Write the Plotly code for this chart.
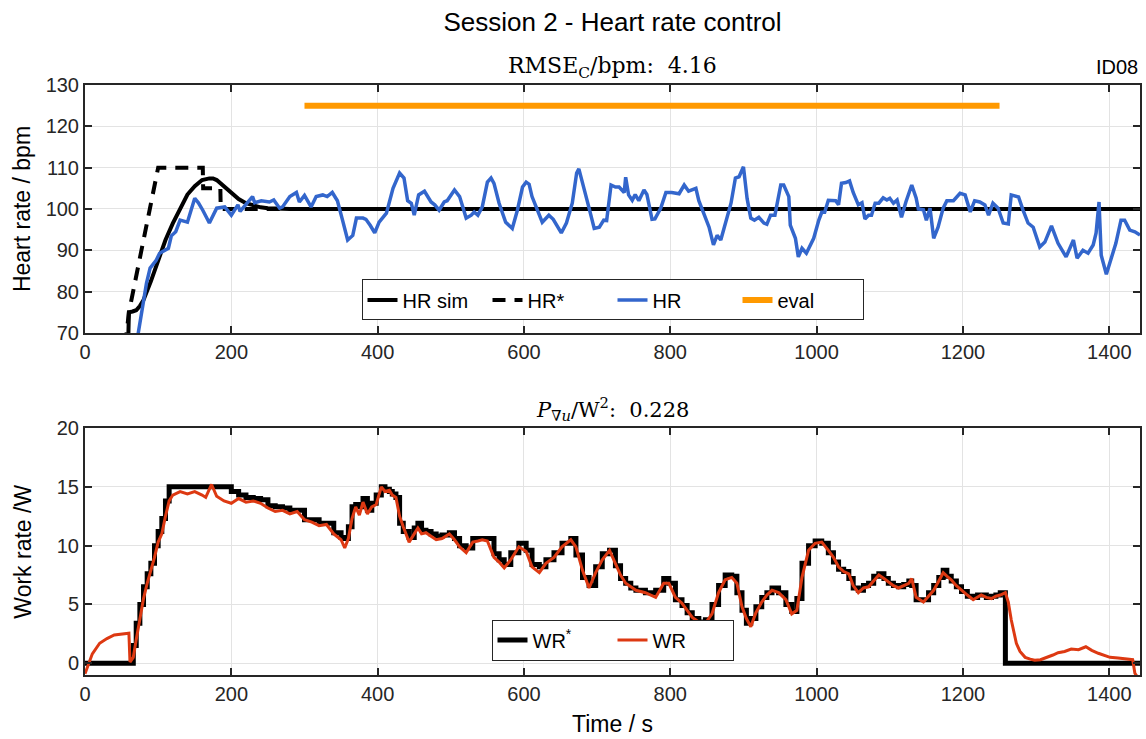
import plotly.graph_objects as go

# ---------------- data ----------------
t_hr = [70, 78, 84, 89, 97, 102, 108, 114, 118, 124, 130, 140, 150, 155, 161, 170, 180, 191, 200, 209,
        212, 222, 229, 232, 241, 252, 258, 266, 270, 280, 289, 293, 300, 309, 316, 325, 331, 338, 345, 352,
        359, 366, 371, 380, 384, 390, 396, 402, 412, 421, 430, 436, 441, 446, 450, 456, 464, 473, 478, 484,
        491, 495, 505, 512, 521, 528, 532, 537, 543, 550, 555, 559, 566, 575, 584, 591, 598, 603, 607, 611,
        625, 634, 640, 651, 658, 666, 672, 675, 682, 689, 696, 703, 709, 713, 719, 725, 730, 737, 739, 743,
        748, 752, 757, 764, 768, 775, 779, 787, 794, 802, 812, 819, 825, 835, 839, 846, 853, 859, 864, 869,
        876, 883, 889, 894, 900, 905, 910, 915, 921, 928, 932, 937, 943, 951, 955, 962, 964, 971, 975, 980,
        986, 996, 1003, 1007, 1011, 1016, 1026, 1030, 1034, 1040, 1045, 1050, 1057, 1062, 1066, 1071, 1075, 1080, 1085, 1091,
        1096, 1100, 1105, 1110, 1116, 1122, 1130, 1136, 1139, 1146, 1150, 1155, 1160, 1166, 1173, 1178, 1187, 1196, 1203, 1210,
        1216, 1223, 1230, 1235, 1241, 1248, 1255, 1262, 1266, 1276, 1282, 1289, 1296, 1305, 1312, 1321, 1330, 1341, 1351, 1356,
        1364, 1371, 1378, 1382, 1386, 1389, 1396, 1402, 1409, 1416, 1421, 1428, 1435, 1442]
hr = [67, 76, 82, 85.7, 87.5, 89.3, 90, 90.5, 93.5, 94.5, 97.3, 96.8, 102.6, 101.5, 99.7, 96.6, 100.2, 100.5, 98.5, 101,
      99.4, 101.7, 103, 101.5, 102, 101.7, 102.2, 100.2, 100.5, 103, 104, 101.7, 103.3, 100.5, 103, 103.4, 103, 104, 102, 97.3,
      92.5, 93.6, 97.8, 97.8, 97.5, 96, 94.2, 96.8, 99, 105, 108.7, 107.5, 102, 101.4, 98.5, 103.4, 104.3, 101.7, 101, 99.7,
      101.7, 102, 104.6, 103, 97.8, 98.5, 99.3, 98.5, 100.5, 106.5, 107.5, 106.2, 101.4, 96.8, 95.3, 99.7, 105.3, 106.5, 106, 103,
      96.8, 98.5, 97.5, 94.2, 96.6, 101.4, 108.7, 109.7, 105.3, 100.2, 95.3, 95.6, 97.3, 97.2, 105.8, 105.3, 105.3, 104, 107.7, 103.4,
      102.1, 103.5, 102, 104.6, 103.5, 97.5, 97.6, 100.2, 104, 104, 103.7, 105.8, 104.3, 105, 102, 98.5, 95.6, 91.3, 93.6, 92.5,
      96.6, 101.4, 107.5, 107.8, 110.2, 102.5, 97.8, 97.3, 98, 96.6, 96.3, 98.5, 98.5, 105.8, 105.8, 103, 96.1, 92.9, 88.4, 90.5,
      89.3, 92.9, 97.3, 99.2, 99.2, 102.1, 102, 101, 106.2, 106.4, 106.8, 104, 101, 101.5, 97.6, 98.5, 98.5, 101.4, 101.4, 102.7,
      102.2, 102.6, 101.4, 102.2, 98, 101.7, 105.8, 102.7, 100, 99.8, 97.3, 100.2, 92.9, 95.6, 100.2, 102, 102, 103.8, 103.4, 99.3,
      102, 101.7, 101, 98.5, 101.4, 100.2, 96.6, 96.4, 103.4, 102.9, 99.8, 96.6, 95.6, 90.8, 92, 95.9, 91.7, 88.4, 92.5, 88.1,
      90, 89.3, 91.3, 94.2, 101.7, 88.8, 84.2, 87.6, 91.7, 97.3, 97.3, 94.9, 94.5, 93.7]

t_sim = [58, 60, 65, 70, 75, 80, 90, 100, 110, 120, 130, 140, 150, 160, 170, 175, 180, 190, 200, 210,
         220, 230, 240, 250, 260, 280, 300, 1442]
hr_sim = [60, 75, 75.2, 75.5, 76.5, 78, 82.5, 87.5, 92.5, 96.5, 100, 103.5, 105.5, 107, 107.4, 107.4, 107, 105.5, 103.8, 102.4,
          101.4, 100.8, 100.4, 100.2, 100.1, 100, 100, 100]

t_ref_hr = [55, 60, 100, 161, 161.5, 185, 185.5, 1442]
hr_ref = [67, 75, 110, 110, 105, 105, 100, 100]

t_eval = [300, 1250]
eval_level = [125, 125]

t_wr = [0, 5, 10, 20, 30, 40, 50, 60, 61.5, 66, 70, 75, 80, 85, 90, 95, 100, 105, 110, 115,
        120, 130, 140, 150, 160, 165, 173, 180, 190, 200, 210, 220, 230, 240, 250, 260, 270, 280, 290, 300,
        310, 320, 330, 340, 350, 355, 360, 365, 370, 375, 380, 386, 392, 398, 405, 410, 416, 420, 425, 430,
        435, 443, 450, 455, 460, 466, 473, 480, 488, 498, 505, 512, 521, 530, 537, 543, 550, 559, 566, 573,
        582, 593, 603, 611, 621, 630, 641, 652, 664, 671, 680, 689, 698, 707, 717, 725, 732, 739, 746, 753,
        766, 780, 791, 798, 807, 816, 823, 830, 839, 848, 857, 866, 875, 884, 891, 898, 904, 910, 917, 925,
        932, 939, 948, 958, 966, 973, 980, 989, 998, 1007, 1016, 1023, 1030, 1037, 1044, 1050, 1057, 1064, 1071, 1078,
        1085, 1092, 1098, 1105, 1112, 1119, 1126, 1130, 1136, 1146, 1153, 1160, 1167, 1173, 1178, 1184, 1191, 1198, 1206, 1214,
        1220, 1225, 1232, 1239, 1245, 1251, 1258, 1262, 1266, 1270, 1273, 1278, 1285, 1292, 1298, 1306, 1316, 1323, 1330, 1339,
        1348, 1358, 1368, 1376, 1385, 1393, 1401, 1412, 1420, 1426, 1432, 1435, 1442]
wr = [-0.9, 0.0, 0.8, 1.7, 2.1, 2.4, 2.5, 2.55, 0.1, 0.5, 2.0, 3.8, 5.5, 6.8, 7.8, 9.0, 10.3, 11.0, 12.5, 13.8,
      14.3, 14.6, 14.4, 14.6, 14.3, 14.1, 15.2, 14.2, 13.8, 13.6, 14.0, 13.7, 13.8, 13.6, 13.2, 12.9, 13.0, 12.7, 12.9, 12.2,
      12.0, 11.7, 11.8, 11.0, 10.5, 9.8, 10.6, 12.3, 13.3, 12.6, 13.7, 12.7, 13.3, 13.5, 15.0, 14.6, 14.7, 14.3, 14.1, 12.5,
      11.6, 10.3, 11.0, 11.5, 11.0, 11.1, 10.8, 10.5, 10.6, 11.0, 10.5, 9.9, 9.4, 10.3, 10.4, 10.5, 10.4, 9.0, 8.6, 8.1,
      8.8, 9.9, 9.5, 8.2, 7.7, 8.5, 9.0, 9.9, 10.5, 9.9, 7.9, 6.4, 7.7, 8.8, 9.6, 8.5, 7.5, 6.8, 6.5, 6.2,
      6.0, 5.6, 6.8, 6.8, 5.6, 5.1, 4.5, 3.9, 3.5, 3.4, 4.2, 6.0, 7.1, 7.3, 6.8, 4.8, 3.8, 3.1, 4.3, 5.2,
      5.8, 6.2, 6.0, 5.4, 4.2, 4.5, 7.3, 9.6, 10.2, 10.3, 9.6, 9.0, 8.2, 7.8, 7.6, 6.6, 6.0, 6.4, 6.5, 7.0,
      7.5, 7.2, 6.9, 6.6, 6.4, 6.6, 6.8, 7.2, 5.6, 5.2, 5.7, 6.2, 7.0, 7.7, 7.4, 7.1, 6.6, 6.2, 5.8, 5.4,
      5.6, 5.8, 5.6, 5.5, 5.7, 5.8, 6.0, 5.2, 3.7, 2.5, 1.7, 1.0, 0.5, 0.35, 0.25, 0.3, 0.5, 0.7, 0.9, 1.0,
      1.2, 1.15, 1.4, 1.1, 0.85, 0.7, 0.5, 0.45, 0.4, 0.4, 0.3, -0.85, -1.5]
wr_ref = [0, 0, 0, 0, 0, 0, 0, 0, 0, 1.5, 3.4, 5.0, 6.5, 7.6, 8.5, 10.0, 11.2, 12.3, 13.8, 15.0,
          15, 15, 15, 15, 15, 15, 15, 15, 15, 14.6, 14.3, 14.1, 14.0, 13.9, 13.4, 13.3, 13.2, 13.0, 13.0, 12.2,
          12.2, 11.9, 11.9, 11.1, 10.7, 10.6, 11.6, 13.3, 13.5, 13.3, 14.0, 13.0, 13.6, 14.3, 15.0, 14.8, 14.6, 14.4, 14.1, 11.9,
          11.2, 10.7, 11.5, 11.9, 11.3, 11.2, 11.0, 10.8, 10.9, 11.1, 10.6, 10.0, 9.8, 10.6, 10.6, 10.6, 10.6, 9.3, 8.8, 8.4,
          9.4, 10.2, 9.6, 8.4, 8.2, 8.8, 9.4, 10.2, 10.6, 9.2, 7.3, 6.6, 8.2, 9.3, 9.6, 8.3, 7.2, 6.8, 6.4, 6.2,
          6.0, 6.2, 7.2, 6.8, 5.4, 4.9, 4.3, 3.8, 3.5, 3.7, 5.0, 6.6, 7.5, 7.4, 6.0, 4.5, 3.4, 3.8, 4.8, 5.6,
          6.0, 6.4, 6.0, 5.0, 4.4, 5.5, 8.5, 10.0, 10.4, 10.2, 9.4, 8.6, 8.0, 7.8, 7.2, 6.4, 6.2, 6.6, 6.8, 7.4,
          7.6, 7.2, 6.8, 6.6, 6.5, 6.7, 7.0, 6.6, 5.4, 5.4, 6.0, 6.6, 7.3, 7.9, 7.4, 7.0, 6.5, 6.1, 5.7, 5.6,
          5.8, 5.8, 5.6, 5.7, 5.8, 6.0, 0, 0, 0, 0, 0, 0, 0, 0, 0, 0, 0, 0, 0, 0,
          0, 0, 0, 0, 0, 0, 0, 0, 0, 0, 0, 0, 0]

hr_yticks = [70, 80, 90, 100, 110, 120, 130]
wr_yticks = [0, 5, 10, 15, 20]
x_ticks = [0, 200, 400, 600, 800, 1000, 1200, 1400]

# ---------------- styles ----------------
BLUE = "#3366cc"
ORANGE = "#ff9900"
RED = "#dd3912"
FONT = "Liberation Sans, Arial, sans-serif"
SERIF = "DejaVu Serif, Liberation Serif, serif"

fig = go.Figure()

fig.add_trace(go.Scatter(x=t_sim, y=hr_sim, mode="lines", name="HR sim",
                         line=dict(color="black", width=4), xaxis="x", yaxis="y", legend="legend"))
fig.add_trace(go.Scatter(x=t_ref_hr, y=hr_ref, mode="lines", name="HR*",
                         line=dict(color="black", width=4, dash="13px,9px"), xaxis="x", yaxis="y", legend="legend"))
fig.add_trace(go.Scatter(x=t_hr, y=hr, mode="lines", name="HR",
                         line=dict(color=BLUE, width=3.5), xaxis="x", yaxis="y", legend="legend"))
fig.add_trace(go.Scatter(x=t_eval, y=eval_level, mode="lines", name="eval",
                         line=dict(color=ORANGE, width=6), xaxis="x", yaxis="y", legend="legend"))

fig.add_trace(go.Scatter(x=t_wr, y=wr_ref, mode="lines", name="WR<sup>*</sup>", line_shape="hv",
                         line=dict(color="black", width=5), xaxis="x2", yaxis="y2", legend="legend2"))
fig.add_trace(go.Scatter(x=t_wr, y=wr, mode="lines", name="WR",
                         line=dict(color=RED, width=3), xaxis="x2", yaxis="y2", legend="legend2"))

axis_common = dict(showline=True, linecolor="#262626", linewidth=2, mirror="ticks",
                   ticks="inside", ticklen=7, tickwidth=1.5, tickcolor="#262626",
                   showgrid=True, gridcolor="#e3e3e3", gridwidth=1, zeroline=False,
                   tickfont=dict(family=FONT, size=20, color="#262626"))

fig.update_layout(
    width=1146, height=739,
    margin=dict(l=85, r=4, t=85, b=64),
    paper_bgcolor="white", plot_bgcolor="white",
    font=dict(family=FONT, color="#262626"),
    showlegend=True,
    title=dict(text="Session 2 - Heart rate control", x=0.5, xref="paper", xanchor="center",
               y=1 - 22 / 739, yref="container", yanchor="middle",
               font=dict(family=FONT, size=26, color="black")),
    xaxis=dict(domain=[0, 1], range=[0, 1442], tickvals=x_ticks, anchor="y", **axis_common),
    yaxis=dict(domain=[0.5797, 1], range=[70, 130], tickvals=hr_yticks, anchor="x", **axis_common),
    xaxis2=dict(domain=[0, 1], range=[0, 1442], tickvals=x_ticks, anchor="y2", **axis_common),
    yaxis2=dict(domain=[0, 0.4186], range=[-1, 20], tickvals=wr_yticks, anchor="x2", **axis_common),
    legend=dict(orientation="h", x=0.5, y=0.6356, xanchor="center", yanchor="middle",
                bgcolor="white", bordercolor="#262626", borderwidth=1,
                font=dict(family=FONT, size=20, color="black"),
                entrywidth=80, entrywidthmode="pixels"),
    legend2=dict(orientation="h", x=0.5, y=0.0593, xanchor="center", yanchor="middle",
                 bgcolor="white", bordercolor="#262626", borderwidth=1,
                 font=dict(family=FONT, size=20, color="black"),
                 entrywidth=75, entrywidthmode="pixels"),
    annotations=[
        dict(text="RMSE<sub>C</sub>/bpm:  4.16", x=0.5, y=1.0305, xref="paper", yref="paper",
             xanchor="center", yanchor="middle", showarrow=False,
             font=dict(family=SERIF, size=22, color="black")),
        dict(text="ID08", x=1, y=1.0305, xref="paper", yref="paper",
             xanchor="right", yanchor="middle", showarrow=False,
             font=dict(family=FONT, size=20, color="black")),
        dict(text="<i>P</i><sub>∇<i>u</i></sub>/W<sup>2</sup>:  0.228", x=0.5, y=0.4508, xref="paper", yref="paper",
             xanchor="center", yanchor="middle", showarrow=False,
             font=dict(family=SERIF, size=21, color="black")),
        dict(text="Heart rate / bpm", x=-0.0596, y=(0.5797 + 1) / 2, xref="paper", yref="paper",
             xanchor="center", yanchor="middle", textangle=-90, showarrow=False,
             font=dict(family=FONT, size=23, color="black")),
        dict(text="Work rate /W", x=-0.0596, y=0.4186 / 2, xref="paper", yref="paper",
             xanchor="center", yanchor="middle", textangle=-90, showarrow=False,
             font=dict(family=FONT, size=23, color="black")),
        dict(text="Time / s", x=0.5, y=-0.083, xref="paper", yref="paper",
             xanchor="center", yanchor="middle", showarrow=False,
             font=dict(family=FONT, size=23, color="black")),
    ],
)

fig.write_html("out.html")
